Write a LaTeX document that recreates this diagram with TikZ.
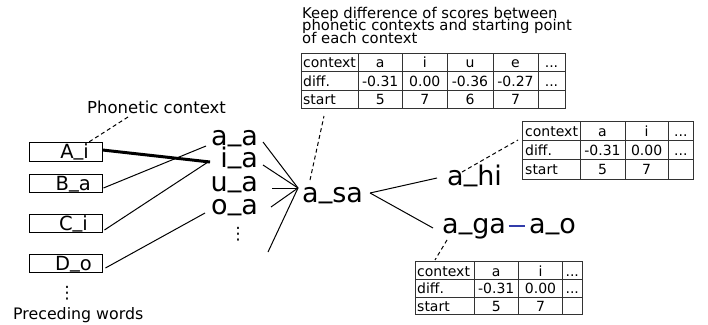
\documentclass[tikz,border=0pt]{standalone}
\usepackage{fontspec}
\setmainfont{DejaVu Sans}
\usetikzlibrary{calc}
\newcommand\uscore{\raisebox{0.15em}{\_}}
\begin{document}
\begin{tikzpicture}[x=1pt,y=-1pt,
  biglbl/.style={inner sep=0, font=\fontsize{27}{27}\selectfont},
  boxlbl/.style={inner sep=0, anchor=base east, font=\fontsize{19.5}{19.5}\selectfont},
  wbox/.style={draw, line width=0.9pt, minimum width=73pt, minimum height=18.5pt, inner sep=0},
  txtw/.style={inner sep=0, anchor=base west},
  wire/.style={line width=1pt},
  heavy/.style={line width=3pt},
  dashy/.style={line width=1pt, dash pattern=on 4pt off 3pt},
  tgrid/.style={line width=0.8pt, draw=black!80},
  tl/.style={inner sep=0, anchor=base west, font=\fontsize{14}{14}\selectfont},
  tcc/.style={inner sep=0, anchor=base, font=\fontsize{14}{14}\selectfont},
  vdot/.style={inner sep=0, font=\fontsize{17}{17}\selectfont},
]
\useasboundingbox (0,0) rectangle (708,324);

% heading
\node[txtw, font=\fontsize{14.8}{14.8}\selectfont] (h1) at (302,18.3) {Keep difference of scores between};
\node[txtw, font=\fontsize{14.8}{14.8}\selectfont] (h2) at (302,30.6) {phonetic contexts and starting point};
\node[txtw, font=\fontsize{14.8}{14.8}\selectfont] (h3) at (302,43) {of each context};

% left labels
\node[txtw, font=\fontsize{16.5}{16.5}\selectfont] (phon) at (87,113) {Phonetic context};
\node[txtw, font=\fontsize{15.8}{15.8}\selectfont] (prec) at (13,319) {Preceding words};

% boxes
\node[wbox] (Ai) at (65.5,152) {};
\node[wbox] (Ba) at (65.5,183.5) {};
\node[wbox] (Ci) at (65.5,223.5) {};
\node[wbox] (Do) at (65.5,263.5) {};
\node[boxlbl] (Ail) at (89,158.5) {A\uscore i};
\node[boxlbl] (Bal) at (91,190) {B\uscore a};
\node[boxlbl] (Cil) at (88,230) {C\uscore i};
\node[boxlbl] (Dol) at (92,270) {D\uscore o};
\node[vdot] (ldots) at (67,293) {⋮};

% context labels
\node[biglbl, anchor=base east] (aa) at (258,145) {a\uscore a};
\node[biglbl, anchor=base east] (ia) at (258,167) {i\uscore a};
\node[biglbl, anchor=base east] (ua) at (258,191) {u\uscore a};
\node[biglbl, anchor=base east] (oa) at (258,214) {o\uscore a};
\node[vdot] (cdots) at (238,234) {⋮};

\node[biglbl, anchor=base west] (asa) at (302,202) {a\uscore sa};
\node[biglbl, anchor=base west] (ahi) at (447,185) {a\uscore hi};
\node[biglbl, anchor=base west] (aga) at (442,233) {a\uscore ga};
\node[biglbl, anchor=base west] (ao) at (529,233) {a\uscore o};

% connectors left
\draw[heavy] ($(Ai.east)+(0,-2)$) -- ($(ia.base west)+(-10,-5)$);
\draw[wire] ($(Ba.east)+(1,4.5)$) -- ($(aa.base west)+(-5,1)$);
\draw[wire] ($(Ci.east)+(2,6.5)$) -- ($(ia.base west)+(-12,-5)$);
\draw[wire] ($(Do.east)+(3,4.5)$) -- ($(oa.base west)+(-6,-1)$);

\coordinate (sain) at ($(asa.base west)+(-4,-14)$);
\coordinate (more) at (268,252);
\draw[wire] ($(aa.base east)+(5,-3)$) -- (sain);
\draw[wire] ($(ia.base east)+(5,-2)$) -- (sain);
\draw[wire] ($(ua.base east)+(14,-3)$) -- (sain);
\draw[wire] ($(oa.base east)+(13,-7)$) -- (sain);
\draw[wire] (more) -- (sain);

\coordinate (saout) at ($(asa.base east)+(7,-9)$);
\draw[wire] (saout) -- ($(ahi.base west)+(-10,-7)$);
\draw[wire] (saout) -- ($(aga.base west)+(-9,-5)$);
\draw[line width=1.2pt, draw={rgb,255:red,50;green,60;blue,170}] ($(aga.base east)+(2.5,-7)$) -- ($(ao.base west)+(-4,-7)$);

% dashed
\draw[dashy] ($(phon.base west)+(41,4)$) -- ($(Ai.north east)+(-14,0)$);
\draw[dashy] ($(asa.base west)+(8,-22)$) -- (324,116);
\draw[dashy] ($(ahi.base west)+(15,-13)$) -- (518,140);
\draw[dashy] ($(aga.base west)+(5,7)$) -- (435,260);

% table 1
\draw[tgrid] (301,53) rectangle (565,108);
\draw[tgrid] (301,71.5) -- (565,71.5) (301,90) -- (565,90);
\foreach \x in {358,402.5,447,493,538} \draw[tgrid] (\x,53) -- (\x,108);
\node[tl] (t1a) at (303,67.5) {context};
\node[tl] (t1b) at (303,86) {diff.};
\node[tl] (t1c) at (303,104.5) {start};
\node[tcc] (t1d) at (380.25,67.5) {a};
\node[tcc] (t1e) at (424.75,67.5) {i};
\node[tcc] (t1f) at (470,67.5) {u};
\node[tcc] (t1g) at (515.5,67.5) {e};
\node[tcc] (t1h) at (551.5,67.5) {...};
\node[tcc] (t1i) at (380.25,86) {-0.31};
\node[tcc] (t1j) at (424.75,86) {0.00};
\node[tcc] (t1k) at (470,86) {-0.36};
\node[tcc] (t1l) at (515.5,86) {-0.27};
\node[tcc] (t1m) at (551.5,86) {...};
\node[tcc] (t1n) at (380.25,104.5) {5};
\node[tcc] (t1o) at (424.75,104.5) {7};
\node[tcc] (t1p) at (470,104.5) {6};
\node[tcc] (t1q) at (515.5,104.5) {7};

% table 2
\draw[tgrid] (522.7,121.7) rectangle (693.3,179);
\draw[tgrid] (522.7,140.7) -- (693.3,140.7) (522.7,159.7) -- (693.3,159.7);
\foreach \x in {580,625,668.3} \draw[tgrid] (\x,121.7) -- (\x,179);
\node[tl] (t2a) at (525,136.2) {context};
\node[tl] (t2b) at (525,155.2) {diff.};
\node[tl] (t2c) at (525,174.2) {start};
\node[tcc] (t2d) at (602.5,136.2) {a};
\node[tcc] (t2e) at (646.6,136.2) {i};
\node[tcc] (t2f) at (680.8,136.2) {...};
\node[tcc] (t2g) at (602.5,155.2) {-0.31};
\node[tcc] (t2h) at (646.6,155.2) {0.00};
\node[tcc] (t2i) at (680.8,155.2) {...};
\node[tcc] (t2j) at (602.5,174.2) {5};
\node[tcc] (t2k) at (646.6,174.2) {7};

% table 3
\draw[tgrid] (415,261.5) rectangle (582,314.7);
\draw[tgrid] (415,279.3) -- (582,279.3) (415,297) -- (582,297);
\foreach \x in {474,518.5,562.5} \draw[tgrid] (\x,261.5) -- (\x,314.7);
\node[tl] (t3a) at (417,276) {context};
\node[tl] (t3b) at (417,293.8) {diff.};
\node[tl] (t3c) at (417,311.5) {start};
\node[tcc] (t3d) at (496.25,276) {a};
\node[tcc] (t3e) at (540.5,276) {i};
\node[tcc] (t3f) at (572.25,276) {...};
\node[tcc] (t3g) at (496.25,293.8) {-0.31};
\node[tcc] (t3h) at (540.5,293.8) {0.00};
\node[tcc] (t3i) at (572.25,293.8) {...};
\node[tcc] (t3j) at (496.25,311.5) {5};
\node[tcc] (t3k) at (540.5,311.5) {7};
\end{tikzpicture}
\end{document}
